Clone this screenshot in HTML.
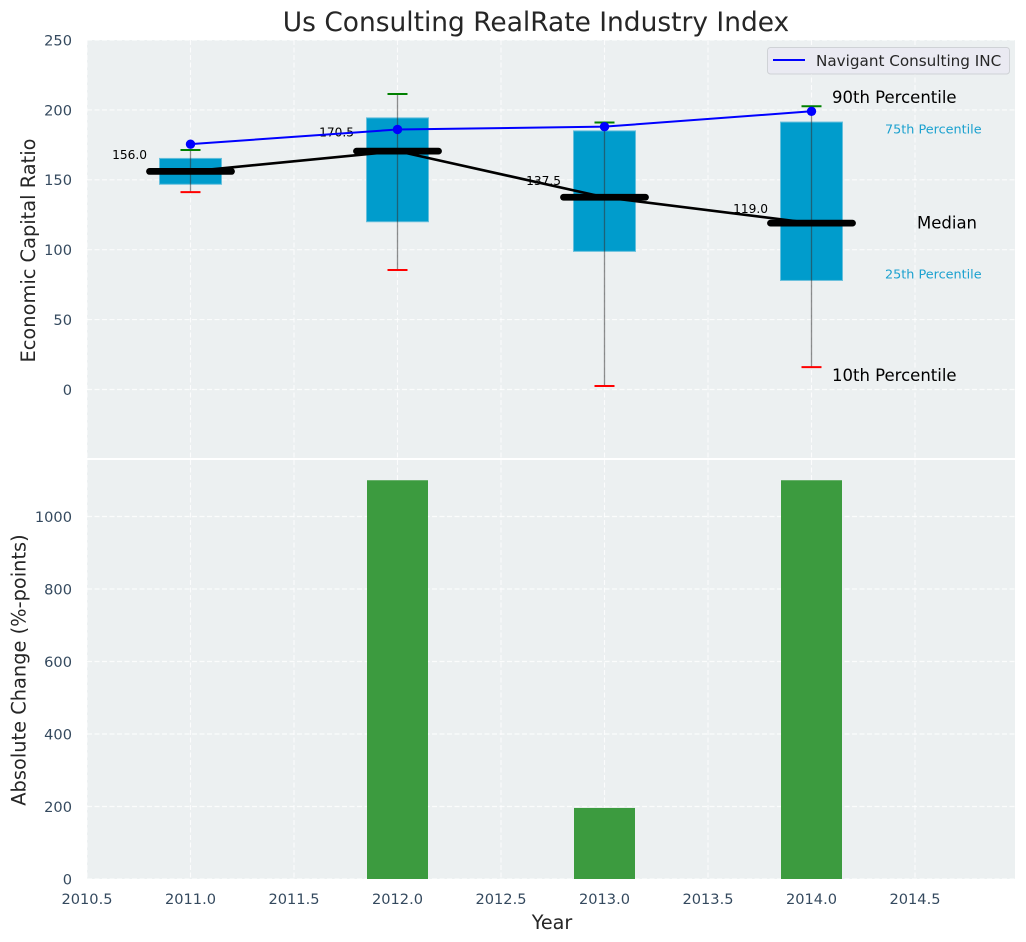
<!DOCTYPE html>
<html>
<head>
<meta charset="utf-8">
<title>Us Consulting RealRate Industry Index</title>
<style>
html,body{margin:0;padding:0;background:#fff;width:1026px;height:942px;overflow:hidden}
svg{display:block;font-family:"DejaVu Sans","Liberation Sans",sans-serif}
</style>
</head>
<body>
<svg id="chart" xmlns="http://www.w3.org/2000/svg" width="1026" height="942" viewBox="0 0 1026 942"></svg>
<script>
const years = [2011, 2012, 2013, 2014];
const p10 = [141.2, 85.5, 2.5, 16];
const p25 = [146.8, 120, 98.8, 78];
const median = [156, 170.5, 137.5, 119];
const p75 = [165.3, 194.3, 185, 191.3];
const p90 = [171.3, 211.4, 191, 202.6];
const navigant = [175.5, 186, 188, 199];
const medianLabelHeights = [168, 184, 149.5, 129.5];
const absoluteChange = [0, 1100, 196, 1100];
const xTicks = [2010.5, 2011, 2011.5, 2012, 2012.5, 2013, 2013.5, 2014, 2014.5];
const topYTicks = [0, 50, 100, 150, 200, 250];
const bottomYTicks = [0, 200, 400, 600, 800, 1000];

const NS = 'http://www.w3.org/2000/svg';
const svg = document.getElementById('chart');
const L = 87, R = 1015, T1 = 40, B1 = 458, T2 = 460, B2 = 879;
const xS = v => 190.5 + (v - 2011) * 207;
const y1 = v => 389.5 - v * 1.398;
const y2 = v => 879 - v * 0.3625;

function mk(tag, attrs, parent) {
  const e = document.createElementNS(NS, tag);
  for (const k in attrs) e.setAttribute(k, attrs[k]);
  (parent || svg).appendChild(e);
  return e;
}
function txt(s, attrs, parent) {
  const e = mk('text', attrs, parent);
  e.textContent = s;
  return e;
}
const gridStyle = {stroke: '#ffffff', 'stroke-width': 1.15, 'stroke-dasharray': '5 2.5', 'stroke-opacity': 0.8};

const topBg = mk('rect', {x: L, y: T1, width: R - L, height: B1 - T1, fill: '#ecf0f1'});


const botBg = mk('rect', {x: L, y: T2, width: R - L, height: B2 - T2, fill: '#ecf0f1'});



xTicks.forEach(t => {
  const g1 = mk('line', Object.assign({x1: xS(t), x2: xS(t), y1: T1, y2: B1}, gridStyle));
  
  
  const g2 = mk('line', Object.assign({x1: xS(t), x2: xS(t), y1: T2, y2: B2}, gridStyle));
  
  
  const lab = txt(t.toFixed(1), {x: xS(t), y: 904, 'text-anchor': 'middle', 'font-size': 14.6, fill: '#34495e'});
  
  
});
topYTicks.forEach(t => {
  const g = mk('line', Object.assign({x1: L, x2: R, y1: y1(t), y2: y1(t)}, gridStyle));
  
  
  const lab = txt(String(t), {x: 72, y: y1(t) + 5.4, 'text-anchor': 'end', 'font-size': 14.6, fill: '#34495e'});
  
  
});
bottomYTicks.forEach(t => {
  const g = mk('line', Object.assign({x1: L, x2: R, y1: y2(t), y2: y2(t)}, gridStyle));
  
  
  const lab = txt(String(t), {x: 72, y: y2(t) + 5.4, 'text-anchor': 'end', 'font-size': 14.6, fill: '#34495e'});
  
  
});

/* boxes */
years.forEach((yr, i) => {
  const x = xS(yr);
  const box = mk('rect', {x: x - 31, y: y1(p75[i]), width: 62, height: y1(p25[i]) - y1(p75[i]), fill: '#009ccc', stroke: '#66bfdc', 'stroke-width': 1});
  
  
});
/* median connector */
const medLine = mk('polyline', {points: years.map((yr, i) => xS(yr) + ',' + y1(median[i])).join(' '), fill: 'none', stroke: '#000', 'stroke-width': 2.6});



years.forEach((yr, i) => {
  const x = xS(yr);
  const w = mk('line', {x1: x, x2: x, y1: y1(p10[i]), y2: y1(p90[i]), stroke: '#333', 'stroke-opacity': 0.55, 'stroke-width': 1.3});
  
  
  const m = mk('line', {x1: x - 41, x2: x + 41, y1: y1(median[i]), y2: y1(median[i]), stroke: '#000', 'stroke-width': 6.8, 'stroke-linecap': 'round'});
  
  
  const c1 = mk('line', {x1: x - 10, x2: x + 10, y1: y1(p90[i]), y2: y1(p90[i]), stroke: '#008000', 'stroke-width': 2});
  
  
  const c2 = mk('line', {x1: x - 10, x2: x + 10, y1: y1(p10[i]), y2: y1(p10[i]), stroke: '#ff0000', 'stroke-width': 2});
  
  
  const l = txt(median[i].toFixed(1), {x: x - 43.5, y: y1(medianLabelHeights[i]) + 4.3, 'text-anchor': 'end', 'font-size': 12.2, fill: '#000'});
  
  
});

/* navigant series */
const navLine = mk('polyline', {points: years.map((yr, i) => xS(yr) + ',' + y1(navigant[i])).join(' '), fill: 'none', stroke: '#0000ff', 'stroke-width': 2});


years.forEach((yr, i) => {
  const d = mk('circle', {cx: xS(yr), cy: y1(navigant[i]), r: 4.7, fill: '#0000ff'});
  
  
});

/* annotations */
const a1 = txt('90th Percentile', {x: 832, y: 103, 'font-size': 16.5, fill: '#000'});


const a2 = txt('75th Percentile', {x: 885, y: 133.5, 'font-size': 12.8, fill: '#1ba1cf'});


const a3 = txt('Median', {x: 917, y: 228.5, 'font-size': 16.5, fill: '#000'});


const a4 = txt('25th Percentile', {x: 885, y: 278.5, 'font-size': 12.8, fill: '#1ba1cf'});


const a5 = txt('10th Percentile', {x: 832, y: 381, 'font-size': 16.5, fill: '#000'});



/* legend */
const lg = mk('rect', {x: 767.5, y: 47.5, width: 242, height: 26.5, rx: 3, fill: '#eaeaf2', stroke: '#cfd2d6', 'stroke-width': 1});


const ll = mk('line', {x1: 773, x2: 805, y1: 60, y2: 60, stroke: '#0000ff', 'stroke-width': 2});


const lt = txt('Navigant Consulting INC', {x: 816, y: 66, 'font-size': 15.2, fill: '#262626'});



/* bottom bars */
years.forEach((yr, i) => {
  const x = xS(yr);
  const b = mk('rect', {x: x - 30.5, y: y2(absoluteChange[i]), width: 61, height: y2(0) - y2(absoluteChange[i]), fill: '#3c9b3f'});
  
  
});

/* titles */
const title = txt('Us Consulting RealRate Industry Index', {x: 536, y: 31, 'text-anchor': 'middle', 'font-size': 26.45, fill: '#262626'});


const yt1 = txt('Economic Capital Ratio', {x: 0, y: 0, 'text-anchor': 'middle', 'font-size': 19.4, fill: '#262626', transform: 'translate(35,250.5) rotate(-90)'});


const yt2 = txt('Absolute Change (%-points)', {x: 0, y: 0, 'text-anchor': 'middle', 'font-size': 19.4, fill: '#262626', transform: 'translate(25.5,670) rotate(-90)'});


const xt = txt('Year', {x: 552, y: 929, 'text-anchor': 'middle', 'font-size': 19.2, fill: '#262626'});


</script>
</body>
</html>
